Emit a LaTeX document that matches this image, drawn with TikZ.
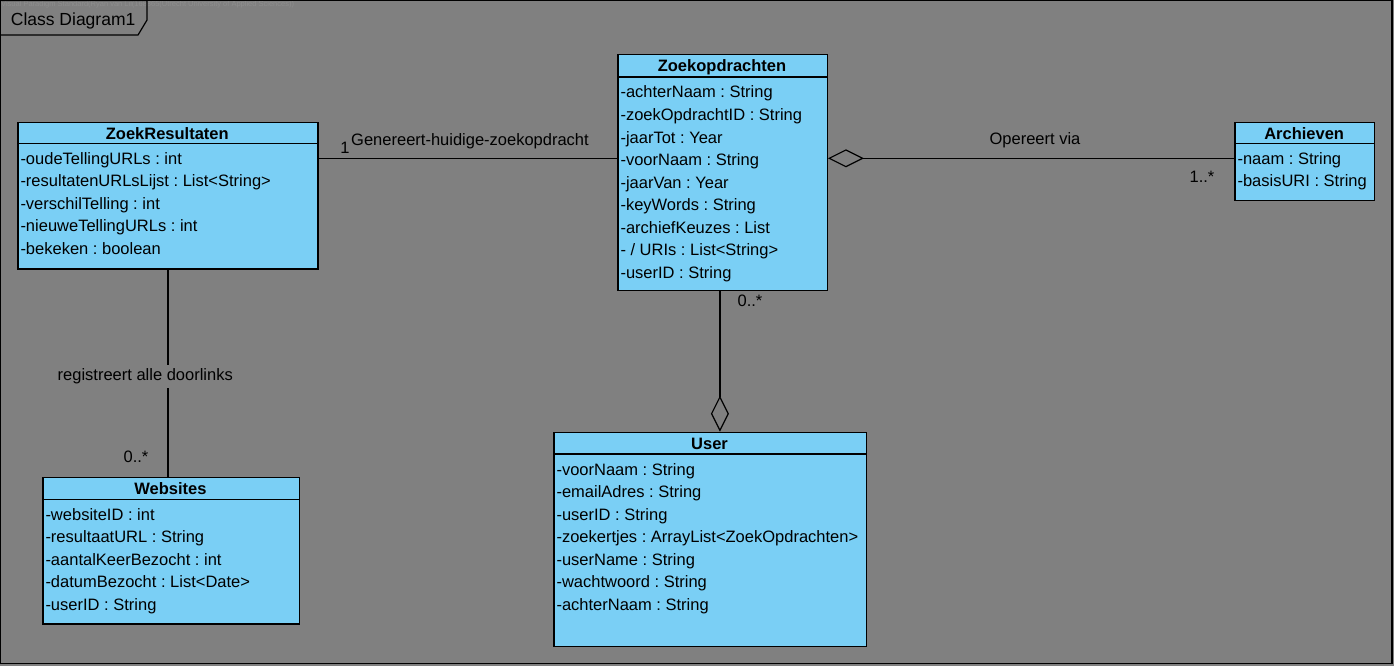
\documentclass[tikz,border=0pt]{standalone}
\usepackage{fontspec}
\setmainfont{Liberation Sans}
\usetikzlibrary{arrows.meta}
\frenchspacing

\definecolor{canvasgray}{RGB}{128,128,128}
\definecolor{classblue}{RGB}{122,207,245}
\definecolor{markgray}{RGB}{142,142,142}

\tikzset{
  classbox/.style={draw=black, fill=classblue, line width=1.2pt, inner sep=0pt, rectangle},
  titletext/.style={font=\fontsize{16.5}{20}\selectfont\bfseries, inner sep=0pt, anchor=base},
  attrtext/.style={font=\fontsize{16.5}{20}\selectfont, inner sep=0pt, anchor=base west},
  assoc/.style={draw=black, line width=1.2pt},
  aggregation/.style={assoc, -{Diamond[open, length=36pt, width=18pt, line width=1.2pt]}},
  rolelabel/.style={font=\fontsize{16.5}{20}\selectfont, inner sep=0pt, anchor=base},
}

% #1 name, #2 left, #3 top, #4 right, #5 bottom, #6 y of header rule, #7 title, #8 attributes
\newcommand\umlclass[8]{%
  \node[classbox, minimum width={(#4)-(#2)}, minimum height={(#5)-(#3)}, anchor=north west] (#1) at (#2,#3) {};
  \draw[line width=1.2pt] (#2,#6) -- (#4,#6);
  \node[titletext] (#1-title) at ({((#2)+(#4))/2},{(#3)+17.5}) {#7};
  \foreach \attrline [count=\k] in {#8} {
    \node[attrtext] (#1-a\k) at ({(#2)+3},{(#6)+21+22.5*(\k-1)}) {\attrline};
  }
}

\begin{document}
\begin{tikzpicture}[x=1pt, y=-1pt]
  \useasboundingbox (0,0) rectangle (1394,666);
  \fill[canvasgray] (0,0) rectangle (1394,666);

  % tool stamp
  \node[font=\fontsize{7.5}{9}\selectfont, text=markgray, inner sep=0pt, anchor=base west] (stamp) at (1,7)
    {Visual Paradigm Standard(Ryan van Lil(168865(Utrecht University of Applied Sciences))};

  % diagram frame and its name tab
  \draw[line width=1.2pt] (0.6,0.6) rectangle (1392,663.4);
  \draw[line width=1.2pt] (0.6,0.6) -- (147,0.6) -- (147,20) -- (138,35) -- (0.6,35);
  \node[font=\fontsize{17.5}{20}\selectfont, inner sep=0pt, anchor=base west] (frame-name) at (10.7,26) {Class Diagram1};

  % classes
  \umlclass{zo}{617.3}{54}{826.7}{290}{77}{Zoekopdrachten}
    {-achterNaam : String, -zoekOpdrachtID : String, -jaarTot : Year, -voorNaam : String,
     -jaarVan : Year, -keyWords : String, -archiefKeuzes : List, - / URIs : List<String>, -userID : String}
  \umlclass{zr}{17.3}{121.7}{317.3}{268.3}{143.3}{ZoekResultaten}
    {-oudeTellingURLs : int, -resultatenURLsLijst : List<String>, -verschilTelling : int,
     -nieuweTellingURLs : int, -bekeken : boolean}
  \umlclass{ar}{1234.3}{121.7}{1374}{200}{143.3}{Archieven}
    {-naam : String, -basisURI : String}
  \umlclass{us}{553.3}{431.7}{865.7}{646}{454}{User}
    {-voorNaam : String, -emailAdres : String, -userID : String, -zoekertjes : ArrayList<ZoekOpdrachten>,
     -userName : String, -wachtwoord : String, -achterNaam : String}
  \umlclass{ws}{42.3}{476.7}{298.7}{623.3}{499.3}{Websites}
    {-websiteID : int, -resultaatURL : String, -aantalKeerBezocht : int, -datumBezocht : List<Date>, -userID : String}

  % associations
  \draw[assoc] ([yshift=-36.6pt]zr.north east) -- ([yshift=-104.3pt]zo.north west);
  \draw[aggregation] ([yshift=-36.6pt]ar.north west) -- ([yshift=-104.3pt]zo.north east);
  \draw[aggregation] ([xshift=-2.7pt]zo.south) -- ([xshift=9.8pt]us.north);
  \draw[assoc] (zr.south) -- ([xshift=-3.2pt]ws.north);

  % association names and multiplicities
  \node[rolelabel] (gen-label) at (470,146) {Genereert-huidige-zoekopdracht};
  \node[rolelabel] (gen-mult) at (345,153.3) {1};
  \node[rolelabel] (op-label) at (1035,144) {Opereert via};
  \node[rolelabel] (op-mult) at (1202,182) {1..*};
  \node[rolelabel] (usr-mult) at (750,306) {0..*};
  \node[rolelabel, fill=canvasgray, inner xsep=2pt, inner ysep=4pt] (reg-label) at (145.3,380.7) {registreert alle doorlinks};
  \node[rolelabel] (web-mult) at (136,462.7) {0..*};
\end{tikzpicture}
\end{document}
